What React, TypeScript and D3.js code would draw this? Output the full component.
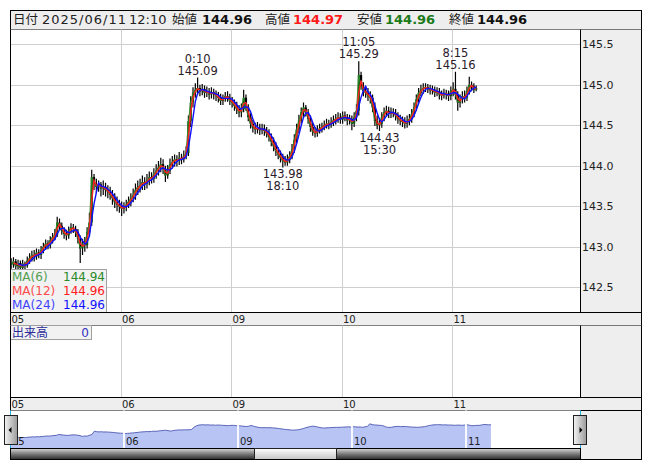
import React from 'react';
import * as d3 from 'd3';

// ---------- data ----------
const days = ["05", "06", "09", "10", "11"];
const barsPerDay = 48; // 30-minute bars drawn
const barMinutes = 30;
const sourceBarMinutes = 5; // MA periods in the legend refer to 5-minute bars

const closes = [
  142.78, 142.82, 142.76, 142.80, 142.74, 142.79, 142.77, 142.83, 142.86, 142.90,
  142.88, 142.93, 142.90, 142.96, 143.00, 143.04, 143.02, 143.08, 143.12, 143.15,
  143.30, 143.26, 143.20, 143.16, 143.14, 143.20, 143.24, 143.22, 143.18, 143.10,
  142.98, 143.04, 143.02, 143.18, 143.30, 143.86, 143.78, 143.74, 143.77, 143.72,
  143.74, 143.70, 143.68, 143.64, 143.60, 143.55, 143.52, 143.50, 143.47, 143.49,
  143.52, 143.56, 143.60, 143.64, 143.70, 143.74, 143.76, 143.80, 143.78, 143.82,
  143.86, 143.84, 143.90, 143.94, 143.98, 144.02, 143.96, 143.88, 143.94, 144.02,
  144.05, 144.08, 144.06, 144.10, 144.08, 144.12, 144.16, 144.55, 144.78, 144.90,
  144.94, 144.96, 144.92, 144.95, 144.90, 144.92, 144.88, 144.91, 144.89, 144.86,
  144.84, 144.80, 144.83, 144.86, 144.84, 144.80, 144.78, 144.74, 144.70, 144.66,
  144.70, 144.84, 144.72, 144.60, 144.52, 144.47, 144.45, 144.47, 144.44, 144.46,
  144.43, 144.40, 144.36, 144.30, 144.24, 144.18, 144.14, 144.10, 144.06, 144.04,
  144.08, 144.12, 144.20, 144.32, 144.45, 144.56, 144.66, 144.72, 144.66, 144.58,
  144.48, 144.42, 144.40, 144.44, 144.46, 144.48, 144.50, 144.52, 144.51, 144.54,
  144.56, 144.58, 144.60, 144.57, 144.62, 144.60, 144.56, 144.58, 144.52, 144.60,
  144.68, 145.12, 144.98, 144.92, 144.90, 144.86, 144.84, 144.72, 144.55, 144.50,
  144.52, 144.60, 144.66, 144.68, 144.64, 144.66, 144.65, 144.62, 144.58, 144.56,
  144.54, 144.52, 144.55, 144.58, 144.64, 144.72, 144.82, 144.90, 144.94, 144.96,
  144.97, 144.95, 144.93, 144.94, 144.90, 144.92, 144.88, 144.87, 144.90, 144.88,
  144.86, 144.92, 144.95, 144.88, 144.78, 144.82, 144.86, 144.84, 144.92, 145.00,
  144.98, 144.94, 144.96,
];

const highs = [
  142.86, 142.87, 142.85, 142.84, 142.83, 142.84, 142.82, 142.88, 142.92, 142.95,
  142.96, 142.98, 142.97, 143.01, 143.05, 143.09, 143.08, 143.13, 143.17, 143.22,
  143.37, 143.35, 143.30, 143.24, 143.21, 143.25, 143.29, 143.28, 143.26, 143.22,
  143.14, 143.10, 143.12, 143.24, 143.42, 143.95, 143.90, 143.84, 143.82, 143.80,
  143.82, 143.79, 143.76, 143.74, 143.70, 143.66, 143.62, 143.58, 143.56, 143.55,
  143.58, 143.62, 143.66, 143.72, 143.78, 143.82, 143.84, 143.88, 143.86, 143.90,
  143.93, 143.92, 143.97, 144.02, 144.06, 144.10, 144.08, 144.00, 144.01, 144.09,
  144.12, 144.14, 144.13, 144.17, 144.15, 144.19, 144.24, 144.62, 144.86, 144.97,
  145.02, 145.09, 145.00, 145.01, 144.99, 144.98, 144.96, 144.97, 144.95, 144.93,
  144.91, 144.89, 144.88, 144.91, 144.92, 144.89, 144.85, 144.82, 144.79, 144.75,
  144.77, 144.94, 144.88, 144.76, 144.65, 144.57, 144.53, 144.54, 144.52, 144.52,
  144.51, 144.48, 144.45, 144.40, 144.35, 144.29, 144.23, 144.19, 144.15, 144.12,
  144.14, 144.18, 144.27, 144.39, 144.52, 144.63, 144.72, 144.78, 144.75, 144.70,
  144.62, 144.53, 144.48, 144.50, 144.52, 144.53, 144.56, 144.58, 144.57, 144.60,
  144.62, 144.64, 144.66, 144.65, 144.67, 144.67, 144.64, 144.63, 144.62, 144.66,
  144.76, 145.29, 145.16, 145.03, 144.98, 144.96, 144.92, 144.88, 144.78, 144.62,
  144.59, 144.66, 144.72, 144.74, 144.73, 144.72, 144.71, 144.70, 144.66, 144.63,
  144.61, 144.60, 144.62, 144.64, 144.70, 144.78, 144.88, 144.96, 145.00, 145.02,
  145.02, 145.01, 145.00, 144.99, 144.98, 144.97, 144.96, 144.93, 144.95, 144.94,
  144.93, 144.98, 145.03, 145.16, 144.92, 144.88, 144.92, 144.93, 144.98, 145.10,
  145.04, 145.02, 144.99,
];

const lows = [
  142.73, 142.74, 142.71, 142.72, 142.69, 142.71, 142.72, 142.74, 142.79, 142.82,
  142.82, 142.84, 142.86, 142.85, 142.92, 142.96, 142.97, 142.98, 143.04, 143.08,
  143.12, 143.21, 143.15, 143.10, 143.08, 143.10, 143.16, 143.17, 143.12, 143.04,
  142.80, 142.90, 142.94, 142.98, 143.12, 143.26, 143.70, 143.66, 143.68, 143.62,
  143.64, 143.62, 143.60, 143.58, 143.52, 143.48, 143.44, 143.42, 143.38, 143.41,
  143.44, 143.48, 143.50, 143.55, 143.58, 143.64, 143.67, 143.70, 143.70, 143.72,
  143.76, 143.78, 143.79, 143.84, 143.88, 143.92, 143.90, 143.80, 143.84, 143.90,
  143.97, 143.99, 143.99, 144.01, 144.02, 144.04, 144.08, 144.12, 144.48, 144.72,
  144.84, 144.88, 144.86, 144.87, 144.84, 144.85, 144.82, 144.83, 144.82, 144.80,
  144.78, 144.75, 144.75, 144.79, 144.79, 144.75, 144.72, 144.68, 144.64, 144.60,
  144.60, 144.66, 144.68, 144.55, 144.46, 144.41, 144.39, 144.40, 144.38, 144.39,
  144.37, 144.35, 144.30, 144.24, 144.18, 144.12, 144.08, 144.04, 143.98, 144.00,
  144.00, 144.03, 144.08, 144.16, 144.28, 144.40, 144.51, 144.60, 144.61, 144.52,
  144.42, 144.37, 144.35, 144.36, 144.40, 144.41, 144.44, 144.46, 144.45, 144.47,
  144.49, 144.51, 144.53, 144.52, 144.52, 144.55, 144.50, 144.51, 144.44, 144.48,
  144.55, 144.62, 144.94, 144.86, 144.84, 144.80, 144.77, 144.66, 144.49, 144.45,
  144.43, 144.47, 144.55, 144.61, 144.59, 144.59, 144.60, 144.56, 144.52, 144.50,
  144.48, 144.46, 144.47, 144.50, 144.53, 144.60, 144.68, 144.78, 144.86, 144.89,
  144.91, 144.90, 144.88, 144.88, 144.85, 144.86, 144.82, 144.81, 144.83, 144.82,
  144.80, 144.81, 144.86, 144.82, 144.68, 144.72, 144.77, 144.78, 144.80, 144.88,
  144.92, 144.90, 144.92,
];
const firstOpen = 142.80;

const yTicks = [142.5, 143.0, 143.5, 144.0, 144.5, 145.0, 145.5];

const maPeriods = [6, 12, 24];
const maColors = ["#2a8a2a", "#ff2020", "#1010ff"];
const maLegendValues = ["144.94", "144.96", "144.96"];

const headerLabels = ["始値", "高値", "安値", "終値"];
const headerValues = ["144.96", "144.97", "144.96", "144.96"];
const headerDate = "2025/06/11";
const headerTime = "12:10";

const annIndex = [81, 118, 151, 160, 193];
const annTime = ["0:10", "18:10", "11:05", "15:30", "8:15"];
const annKind = ["high", "low", "high", "low", "high"];

const volumeValue = "0";

// ---------- helpers ----------
function sma(values: number[], n: number): (number | null)[] {
  return values.map((_, i) => (i < n - 1 ? null : (d3.mean(values.slice(i - n + 1, i + 1)) as number)));
}

const FONT = "'DejaVu Sans', Verdana, sans-serif";
const CJK = "'Noto Sans CJK JP', 'DejaVu Sans', sans-serif";

export default function App() {
  const W = 653, H = 470;
  const L = 10.5, PR = 580.5, R = 641.5;
  const hdrTop = 10.5, hdrBot = 29.5, mainBot = 312.5, d1Bot = 325.5, volBot = 397.5, d2Bot = 410.5, navBot = 448.5, scrBot = 459.5;

  const nDays = days.length;
  const x = d3.scaleLinear().domain([0, nDays * barsPerDay]).range([10, 562.5]);
  const y = d3.scaleLinear().domain([142.5, 145.5]).range([287.3, 44.3]);
  const navX = d3.scaleLinear().domain([0, nDays * barsPerDay]).range([10, 580]);
  const navY = d3.scaleLinear().domain([141.0, 147.47]).range([448, 410]);

  const opens = closes.map((_, i) => (i === 0 ? firstOpen : closes[i - 1]));

  // MA periods are in 5-minute bars; convert to the 30-minute bars drawn here
  const mas = maPeriods.map((p) => sma(closes, Math.max(1, Math.round((p * sourceBarMinutes) / barMinutes))));
  const maLine = d3
    .line<number | null>()
    .defined((d) => d != null)
    .x((_, i) => x(i + 0.5))
    .y((d) => y(d as number));

  const navArea = d3
    .area<number>()
    .x((_, i) => navX(i + 0.5))
    .y0(448)
    .y1((d) => navY(d));
  const navLine = d3
    .line<number>()
    .x((_, i) => navX(i + 0.5))
    .y((d) => navY(d));

  const dayBounds = d3.range(1, nDays).map((k) => k * barsPerDay);

  const headerXs = [172, 265, 357, 449];
  const headerValXs = [202, 293, 385, 477];
  const headerColors = ["#111", "#ff1a1a", "#1a7a1a", "#111"];

  return (
    <svg width={W} height={H} style={{ position: 'absolute', left: 0, top: 0, background: '#fff' }}>
      <defs>
        <clipPath id="plotClip">
          <rect x={L} y={hdrBot} width={PR - L} height={mainBot - hdrBot} />
        </clipPath>
        <linearGradient id="scrollGrad" x1="0" y1="0" x2="0" y2="1">
          <stop offset="0" stopColor="#d8d8d8" />
          <stop offset="0.5" stopColor="#7a7a7a" />
          <stop offset="1" stopColor="#2a2a2a" />
        </linearGradient>
        <linearGradient id="thumbGrad" x1="0" y1="0" x2="0" y2="1">
          <stop offset="0" stopColor="#ffffff" />
          <stop offset="1" stopColor="#c4c4c4" />
        </linearGradient>
        <linearGradient id="btnGrad" x1="0" y1="0" x2="1" y2="0">
          <stop offset="0" stopColor="#f4f4f4" />
          <stop offset="1" stopColor="#9a9a9a" />
        </linearGradient>
      </defs>

      {/* header */}
      <rect x={L} y={hdrTop} width={R - L} height={hdrBot - hdrTop} fill="#eeeeee" stroke="#000" />
      <text x={13} y={23.5} fontFamily={CJK} fontSize={12.5} fill="#222">日付</text>
      <text x={42} y={23.5} fontFamily={FONT} fontSize={13} fill="#222" textLength={84} lengthAdjust="spacing">{headerDate}</text>
      <text x={129} y={23.5} fontFamily={FONT} fontSize={13} fill="#222">{headerTime}</text>
      {headerLabels.map((lab, k) => (
        <g key={lab}>
          <text x={headerXs[k]} y={23.5} fontFamily={CJK} fontSize={12.5} fill="#222">{lab}</text>
          <text x={headerValXs[k]} y={23.5} fontFamily={FONT} fontSize={13} fontWeight="bold" fill={headerColors[k]}>{headerValues[k]}</text>
        </g>
      ))}

      {/* main panel */}
      <rect x={L} y={hdrBot} width={PR - L} height={mainBot - hdrBot} fill="#fff" />
      <rect x={PR} y={hdrBot} width={R - PR} height={mainBot - hdrBot} fill="#eeeeee" />
      {yTicks.map((t) => (
        <g key={t}>
          <line x1={L} x2={PR} y1={Math.round(y(t)) + 0.5} y2={Math.round(y(t)) + 0.5} stroke="#cfcfcf" />
          <text x={582} y={y(t) + 4} fontFamily={FONT} fontSize={11} fill="#222">{t.toFixed(1)}</text>
        </g>
      ))}
      {dayBounds.map((b) => (
        <line key={b} x1={Math.round(x(b)) + 0.5} x2={Math.round(x(b)) + 0.5} y1={hdrBot} y2={mainBot} stroke="#cfcfcf" />
      ))}

      <g clipPath="url(#plotClip)">
        {closes.map((c, i) => {
          const o = opens[i];
          const hi = Math.max(highs[i], o, c);
          const lo = Math.min(lows[i], o, c);
          const cx = x(i + 0.5);
          const top = y(Math.max(o, c));
          const bot = y(Math.min(o, c));
          const up = c >= o;
          return (
            <g key={i}>
              <line x1={cx} x2={cx} y1={y(hi)} y2={y(lo)} stroke="#000" strokeWidth={1.2} />
              <rect x={cx - 1.1} y={top} width={2.2} height={Math.max(1, bot - top)} fill={up ? "#0b5a0b" : "#000"} />
            </g>
          );
        })}
        {mas.map((m, k) => (
          <path key={k} d={maLine(m) || ''} fill="none" stroke={maColors[k]} strokeWidth={k === 0 ? 1 : 1.4} />
        ))}
      </g>

      {/* annotations */}
      {annIndex.map((idx, k) => {
        const cx = x(idx + 0.5);
        const isHigh = annKind[k] === "high";
        const val = isHigh ? highs[idx] : lows[idx];
        const py = y(val);
        const priceY = isHigh ? py - 3 : py + 11;
        const timeY = isHigh ? py - 15 : py + 23;
        return (
          <g key={k} fontFamily={FONT} fontSize={11.5} fill="#2a1a2a" textAnchor="middle">
            <text x={cx} y={priceY}>{val.toFixed(2)}</text>
            <text x={cx} y={timeY}>{annTime[k]}</text>
          </g>
        );
      })}

      {/* MA legend */}
      <rect x={L} y={269.5} width={96} height={mainBot - 269.5} fill="#f2f2f2" stroke="#a0a0a0" />
      {maPeriods.map((p, k) => (
        <g key={p} fontFamily={FONT} fontSize={12}>
          <text x={12} y={280.5 + k * 14} fill={maColors[k]} opacity={0.8}>{`MA(${p})`}</text>
          <text x={105} y={280.5 + k * 14} fill={maColors[k]} textAnchor="end">{maLegendValues[k]}</text>
        </g>
      ))}

      {/* main frame */}
      <line x1={L} x2={L} y1={hdrBot} y2={mainBot} stroke="#000" />
      <line x1={PR} x2={PR} y1={hdrBot} y2={mainBot} stroke="#000" />
      <line x1={R} x2={R} y1={hdrBot} y2={mainBot} stroke="#000" />

      {/* date row 1 */}
      <rect x={L} y={mainBot} width={R - L} height={d1Bot - mainBot} fill="#eeeeee" stroke="#000" />
      {days.map((d, k) => (
        <text key={d} x={x(k * barsPerDay) + 1.5} y={323} fontFamily={FONT} fontSize={10} fill="#222">{d}</text>
      ))}

      {/* volume panel */}
      <rect x={L} y={d1Bot} width={PR - L} height={volBot - d1Bot} fill="#fff" />
      <rect x={PR} y={d1Bot} width={R - PR} height={volBot - d1Bot} fill="#eeeeee" />
      {dayBounds.map((b) => (
        <line key={b} x1={Math.round(x(b)) + 0.5} x2={Math.round(x(b)) + 0.5} y1={d1Bot} y2={volBot} stroke="#cfcfcf" />
      ))}
      <rect x={L} y={d1Bot} width={81} height={14} fill="#f2f2f2" stroke="#a0a0a0" />
      <text x={12} y={337} fontFamily={CJK} fontSize={12} fill="#2a2a9a">出来高</text>
      <text x={89} y={337} fontFamily={FONT} fontSize={12} fill="#3030c0" textAnchor="end">{volumeValue}</text>
      <line x1={L} x2={L} y1={d1Bot} y2={volBot} stroke="#000" />
      <line x1={PR} x2={PR} y1={d1Bot} y2={volBot} stroke="#000" />
      <line x1={R} x2={R} y1={d1Bot} y2={volBot} stroke="#000" />

      {/* date row 2 */}
      <rect x={L} y={volBot} width={R - L} height={d2Bot - volBot} fill="#eeeeee" stroke="#000" />
      {days.map((d, k) => (
        <text key={d} x={x(k * barsPerDay) + 1.5} y={408} fontFamily={FONT} fontSize={10} fill="#222">{d}</text>
      ))}

      {/* navigator */}
      <rect x={PR} y={d2Bot} width={R - PR} height={scrBot - d2Bot} fill="#eeeeee" stroke="#000" />
      <rect x={L} y={d2Bot} width={PR - L} height={navBot - d2Bot} fill="#fff" />
      <path d={navArea(closes) || ''} fill="#b8c4f4" />
      <path d={navLine(closes) || ''} fill="none" stroke="#5a64b8" strokeWidth={1} />
      {dayBounds.map((b) => (
        <line key={b} x1={navX(b)} x2={navX(b)} y1={d2Bot} y2={navBot} stroke="#fff" strokeWidth={1.8} />
      ))}
      {days.map((d, k) => (
        <text key={d} x={navX(k * barsPerDay) + 2} y={444.5} fontFamily={FONT} fontSize={10} fill="#222">{d}</text>
      ))}
      <line x1={L} x2={L} y1={d2Bot} y2={scrBot} stroke="#20b0e0" />
      <line x1={PR} x2={PR} y1={d2Bot} y2={scrBot} stroke="#20b0e0" />

      {/* scrollbar */}
      <rect x={L} y={navBot} width={PR - L} height={scrBot - navBot} fill="url(#scrollGrad)" stroke="#000" />
      <rect x={254.5} y={navBot} width={82} height={scrBot - navBot} fill="url(#thumbGrad)" stroke="#222" />
      <line x1={L} x2={R} y1={scrBot} y2={scrBot} stroke="#000" />

      {/* nav buttons */}
      <rect x={4.5} y={415.5} width={13} height={29} fill="url(#btnGrad)" stroke="#222" />
      <path d="M8.5,430 L11.5,427 L11.5,433 Z" fill="#000" />
      <rect x={573.5} y={415.5} width={13} height={29} fill="url(#btnGrad)" stroke="#222" />
      <path d="M582.5,430 L579.5,427 L579.5,433 Z" fill="#000" />
    </svg>
  );
}
